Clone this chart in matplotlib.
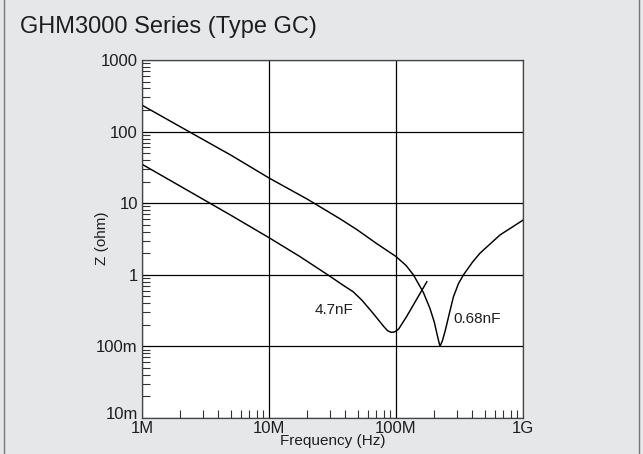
import numpy as np
import matplotlib.pyplot as plt
from matplotlib.lines import Line2D
from matplotlib.ticker import FixedLocator, LogLocator, NullFormatter
from matplotlib.transforms import ScaledTranslation

plt.rcParams["font.family"] = ["Liberation Sans", "DejaVu Sans"]

# 0.68nF curve (frequency in Hz, impedance in ohm)
freq_068 = [1e6, 2e6, 5e6, 10e6, 20e6, 36e6, 49e6, 70e6, 100e6, 120e6, 137e6, 164e6,
            185e6, 200e6, 212e6, 222e6, 232e6, 245e6, 262e6, 283e6, 310e6, 340e6,
            400e6, 458e6, 659e6, 1e9]
z_068 = [234, 117, 47, 22.5, 11.4, 6.1, 4.3, 2.75, 1.8, 1.35, 1.0, 0.57,
         0.34, 0.22, 0.14, 0.10, 0.12, 0.17, 0.28, 0.49, 0.75, 1.0,
         1.5, 2.0, 3.6, 5.8]

# 4.7nF curve
freq_47 = [1e6, 2e6, 5e6, 10e6, 17.5e6, 29e6, 40e6, 46e6, 54e6, 66e6, 80e6,
           86e6, 92e6, 98e6, 105e6, 121e6, 150e6, 175e6]
z_47 = [35, 17.3, 6.8, 3.3, 1.8, 1.0, 0.68, 0.58, 0.44, 0.29, 0.19,
        0.165, 0.157, 0.16, 0.175, 0.26, 0.5, 0.8]

x_ticks = [1e6, 1e7, 1e8, 1e9]
x_labels = ["1M", "10M", "100M", "1G"]
y_ticks = [1e-2, 1e-1, 1, 10, 100, 1000]
y_labels = ["10m", "100m", "1", "10", "100", "1000"]

bg = "#e6e7e9"
txt = "#1e1e1e"

fig = plt.figure(figsize=(6.43, 4.54), dpi=100, facecolor=bg)
ax = fig.add_axes([142 / 643, 1 - 418 / 454, 381 / 643, 358 / 454])

ax.plot(freq_068, z_068, color="black", lw=1.05)
ax.plot(freq_47, z_47, color="black", lw=1.05)

ax.set_xscale("log")
ax.set_yscale("log")
ax.set_xlim(1e6, 1e9)
ax.set_ylim(1e-2, 1e3)

ax.xaxis.set_major_locator(FixedLocator(x_ticks))
ax.set_xticklabels(x_labels)
ax.yaxis.set_major_locator(FixedLocator(y_ticks))
ax.set_yticklabels(y_labels)
ax.xaxis.set_minor_locator(LogLocator(base=10, subs=np.arange(2, 10), numticks=20))
ax.yaxis.set_minor_locator(LogLocator(base=10, subs=np.arange(2, 10), numticks=20))
ax.xaxis.set_minor_formatter(NullFormatter())
ax.yaxis.set_minor_formatter(NullFormatter())

ax.tick_params(which="major", length=0, labelsize=12, colors=txt)
ax.tick_params(axis="y", which="major", pad=3)
ax.tick_params(axis="x", which="major", pad=2)
ax.tick_params(which="minor", direction="in", length=6, width=0.8, color="#333333")

# bottom y label sits above the axis corner, as in the original
ylab = ax.get_yticklabels()
ylab[0].set_transform(ylab[0].get_transform() + ScaledTranslation(0, 5 / 100, fig.dpi_scale_trans))

ax.grid(True, which="major", color="black", lw=0.9)
for s in ax.spines.values():
    s.set_color("#444444")
    s.set_linewidth(0.9)

ax.set_xlabel("Frequency (Hz)", fontsize=11, labelpad=-1, color=txt)
ax.set_ylabel("Z (ohm)", fontsize=11, color=txt)
ax.yaxis.set_label_coords(-0.086, 0.503)

ax.text(23e6, 0.32, "4.7nF", fontsize=11, ha="left", va="center", color=txt)
ax.text(281e6, 0.24, "0.68nF", fontsize=11, ha="left", va="center", color=txt)

fig.text(20 / 643, 1 - 27 / 454, "GHM3000 Series (Type GC)", fontsize=17,
         ha="left", va="center", color=txt)

# outer frame lines at left and right edges
fig.add_artist(Line2D([4 / 643, 4 / 643], [0, 1], transform=fig.transFigure, color="#777777", lw=1))
fig.add_artist(Line2D([639 / 643, 639 / 643], [0, 1], transform=fig.transFigure, color="#777777", lw=1))

fig.savefig("out.png", dpi=100, facecolor=bg)
